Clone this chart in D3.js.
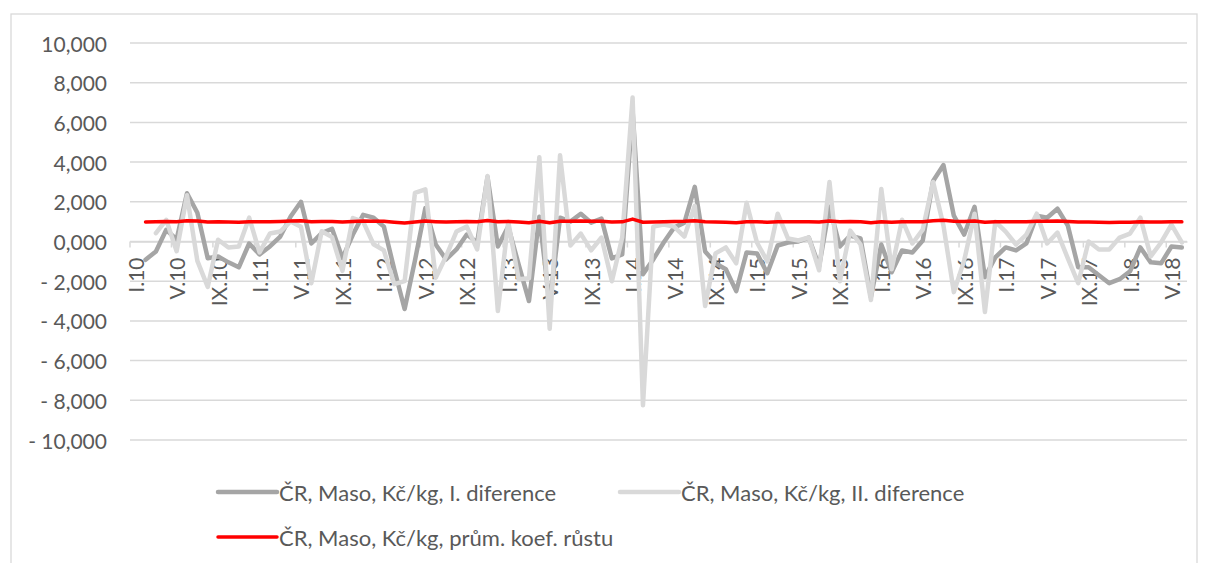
<!DOCTYPE html>
<html>
<head>
<meta charset="utf-8">
<script src="https://cdn.jsdelivr.net/npm/d3@7"></script>
<style>
  html, body { margin: 0; padding: 0; background: #ffffff; }
  svg { display: block; font-family: Lato, "Open Sans", sans-serif; }
</style>
</head>
<body>
<svg id="chart" width="1208" height="563"></svg>
<script>
// Categories (months I.10 .. VI.18)
const categories = [
  "I.10","II.10","III.10","IV.10","V.10","VI.10","VII.10","VIII.10","IX.10","X.10","XI.10","XII.10",
  "I.11","II.11","III.11","IV.11","V.11","VI.11","VII.11","VIII.11","IX.11","X.11","XI.11","XII.11",
  "I.12","II.12","III.12","IV.12","V.12","VI.12","VII.12","VIII.12","IX.12","X.12","XI.12","XII.12",
  "I.13","II.13","III.13","IV.13","V.13","VI.13","VII.13","VIII.13","IX.13","X.13","XI.13","XII.13",
  "I.14","II.14","III.14","IV.14","V.14","VI.14","VII.14","VIII.14","IX.14","X.14","XI.14","XII.14",
  "I.15","II.15","III.15","IV.15","V.15","VI.15","VII.15","VIII.15","IX.15","X.15","XI.15","XII.15",
  "I.16","II.16","III.16","IV.16","V.16","VI.16","VII.16","VIII.16","IX.16","X.16","XI.16","XII.16",
  "I.17","II.17","III.17","IV.17","V.17","VI.17","VII.17","VIII.17","IX.17","X.17","XI.17","XII.17",
  "I.18","II.18","III.18","IV.18","V.18","VI.18"
];

// ČR, Maso, Kč/kg, I. diference
const firstDiff = [
  null, -0.92, -0.50, 0.59, 0.10, 2.43, 1.45, -0.84, -0.75, -1.05, -1.30, -0.10,
  -0.65, -0.25, 0.25, 1.26, 2.00, -0.10, 0.42, 0.64, -0.84, 0.34, 1.34, 1.20,
  0.75, -1.40, -3.40, -0.95, 1.68, -0.15, -0.90, -0.40, 0.35, -0.05, 3.25, -0.25,
  0.75, -1.15, -3.00, 1.25, -3.15, 1.20, 1.00, 1.40, 0.95, 1.15, -0.85, -0.65,
  6.60, -1.65, -0.90, -0.05, 0.70, 0.95, 2.75, -0.50, -1.10, -1.40, -2.50, -0.55,
  -0.60, -1.60, -0.20, -0.05, 0.00, 0.20, -1.25, 1.75, -0.25, 0.30, 0.15, -2.80,
  -0.15, -1.55, -0.45, -0.55, 0.05, 3.05, 3.85, 1.30, 0.35, 1.75, -1.80, -0.80,
  -0.30, -0.45, -0.10, 1.30, 1.20, 1.65, 0.80, -1.30, -1.30, -1.70, -2.10, -1.90,
  -1.50, -0.30, -1.05, -1.10, -0.25, -0.30
];

// ČR, Maso, Kč/kg, II. diference
const secondDiff = [
  null, null, 0.42, 1.09, -0.49, 2.33, -0.98, -2.29, 0.09, -0.30, -0.25, 1.20,
  -0.55, 0.40, 0.50, 1.01, 0.74, -2.10, 0.52, 0.22, -1.48, 1.18, 1.00, -0.14,
  -0.45, -2.15, -2.00, 2.45, 2.63, -1.83, -0.75, 0.50, 0.75, -0.40, 3.30, -3.50,
  1.00, -1.90, -1.85, 4.25, -4.40, 4.35, -0.20, 0.40, -0.45, 0.20, -2.00, 0.20,
  7.25, -8.25, 0.75, 0.85, 0.75, 0.25, 1.80, -3.25, -0.60, -0.30, -1.10, 1.95,
  -0.05, -1.00, 1.40, 0.15, 0.05, 0.20, -1.45, 3.00, -2.00, 0.55, -0.15, -2.95,
  2.65, -1.40, 1.10, -0.10, 0.60, 3.00, 0.80, -2.55, -0.95, 1.40, -3.55, 1.00,
  0.50, -0.15, 0.35, 1.40, -0.10, 0.45, -0.85, -2.10, 0.00, -0.40, -0.40, 0.20,
  0.40, 1.20, -0.75, -0.05, 0.85, -0.05
];

// ČR, Maso, Kč/kg, prům. koef. růstu
const growthCoef = [
  null, 0.98, 0.99, 1.01, 1.00, 1.05, 1.03, 0.98, 0.99, 0.98, 0.97, 1.00,
  0.99, 0.99, 1.01, 1.03, 1.04, 1.00, 1.01, 1.01, 0.98, 1.01, 1.03, 1.02,
  1.02, 0.97, 0.93, 0.98, 1.03, 1.00, 0.98, 0.99, 1.01, 1.00, 1.06, 0.99,
  1.01, 0.98, 0.94, 1.02, 0.94, 1.02, 1.02, 1.03, 1.02, 1.02, 0.98, 0.99,
  1.13, 0.97, 0.98, 1.00, 1.01, 1.02, 1.05, 0.99, 0.98, 0.97, 0.95, 0.99,
  0.99, 0.97, 1.00, 1.00, 1.00, 1.00, 0.98, 1.03, 1.00, 1.01, 1.00, 0.95,
  1.00, 0.97, 0.99, 0.99, 1.00, 1.05, 1.07, 1.02, 1.01, 1.03, 0.97, 0.99,
  0.99, 0.99, 1.00, 1.02, 1.02, 1.03, 1.01, 0.98, 0.98, 0.97, 0.96, 0.97,
  0.97, 0.99, 0.98, 0.98, 1.00, 0.99
];

const yTicks = [-10, -8, -6, -4, -2, 0, 2, 4, 6, 8, 10];
const seriesNames = [
  "ČR, Maso, Kč/kg, I. diference",
  "ČR, Maso, Kč/kg, II. diference",
  "ČR, Maso, Kč/kg, prům. koef. růstu"
];
const seriesColors = ["#a5a5a5", "#d9d9d9", "#ff0000"];

const svg = d3.select("#chart");
const plot = { left: 130, right: 1187, top: 43, bottom: 440 };
const textColor = "#595959";
const gridColor = "#d9d9d9";

// chart border
svg.append("rect")
  .attr("x", 11).attr("y", 14).attr("width", 1186).attr("height", 600)
  .attr("fill", "none").attr("stroke", gridColor).attr("stroke-width", 1.3);

const x = d3.scaleBand().domain(categories).range([plot.left, plot.right]).padding(0);
const y = d3.scaleLinear().domain([-10, 10]).range([plot.bottom, plot.top]);
const cx = c => x(c) + x.bandwidth() / 2;

const fmt = v => {
  const s = d3.format(".3f")(Math.abs(v)).replace(".", ",");
  return v < 0 ? "- " + s : s;
};

// gridlines
svg.append("g").selectAll("line").data(yTicks).join("line")
  .attr("x1", plot.left).attr("x2", plot.right)
  .attr("y1", d => y(d)).attr("y2", d => y(d))
  .attr("stroke", gridColor).attr("stroke-width", 1.5);

// y labels
svg.append("g").selectAll("text").data(yTicks).join("text")
  .attr("x", 107).attr("y", d => y(d))
  .attr("text-anchor", "end").attr("dominant-baseline", "central")
  .attr("fill", textColor).attr("font-size", 21)
  .text(fmt);

// x axis at zero with tick marks every 4 categories
const tickCats = categories.filter((c, i) => i % 4 === 0);
const xAxis = d3.axisBottom(x).tickValues(tickCats).tickSize(0).tickFormat("");
svg.append("g").attr("transform", `translate(0,${y(0)})`).call(xAxis)
  .call(g => g.select(".domain").attr("stroke", gridColor).attr("stroke-width", 1.5));
svg.append("g").selectAll("line").data(tickCats).join("line")
  .attr("x1", d => x(d)).attr("x2", d => x(d))
  .attr("y1", y(0)).attr("y2", y(0) + 6)
  .attr("stroke", gridColor).attr("stroke-width", 1.5);

// rotated category labels
svg.append("g").selectAll("text").data(tickCats).join("text")
  .attr("transform", d => `translate(${cx(d)},${y(0) + 16}) rotate(-90)`)
  .attr("text-anchor", "end").attr("dominant-baseline", "central")
  .attr("fill", textColor).attr("font-size", 21)
  .text(d => d);

// lines
const seriesData = [firstDiff, secondDiff, growthCoef];
const widths = [4.5, 4.5, 3.5];
seriesData.forEach((vals, s) => {
  const pts = categories.map((c, i) => ({ c, v: vals[i] }));
  const line = d3.line()
    .defined(d => d.v !== null && d.v !== undefined)
    .x(d => cx(d.c)).y(d => y(d.v));
  svg.append("path").datum(pts)
    .attr("d", line)
    .attr("fill", "none")
    .attr("stroke", seriesColors[s])
    .attr("stroke-width", widths[s])
    .attr("stroke-linejoin", "round")
    .attr("stroke-linecap", "round");
});

// legend
const legendItems = [
  { name: seriesNames[0], color: seriesColors[0], w: 4.5, x: 218, y: 492 },
  { name: seriesNames[1], color: seriesColors[1], w: 4.5, x: 620, y: 492 },
  { name: seriesNames[2], color: seriesColors[2], w: 3.5, x: 218, y: 537 }
];
const lg = svg.append("g").selectAll("g").data(legendItems).join("g")
  .attr("transform", d => `translate(${d.x},${d.y})`);
lg.append("line").attr("x1", 0).attr("x2", 59).attr("y1", 0).attr("y2", 0)
  .attr("stroke", d => d.color).attr("stroke-width", d => d.w).attr("stroke-linecap", "round");
lg.append("text").attr("x", 61).attr("y", 0).attr("dominant-baseline", "central")
  .attr("fill", textColor).attr("font-size", 22).text(d => d.name);
</script>
</body>
</html>
